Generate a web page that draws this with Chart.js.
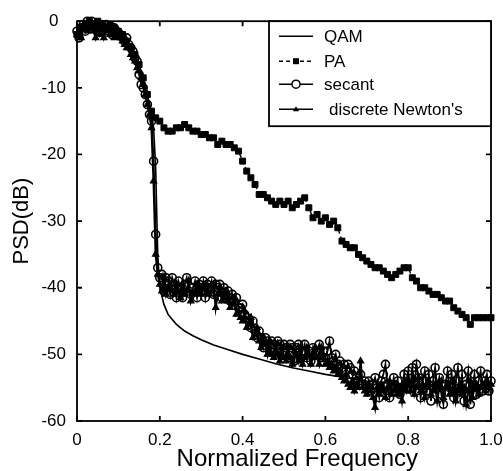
<!DOCTYPE html>
<html>
<head>
<meta charset="utf-8">
<script src="https://cdn.jsdelivr.net/npm/chart.js@4/dist/chart.umd.min.js"></script>
<style>
  body { margin: 0; background: #fff; }
  #wrap { width: 503px; height: 471px; }
</style>
</head>
<body>
<div id="wrap"><canvas id="psd" width="503" height="471"></canvas></div>
<script>
// frequency grids (normalized)
const freqFine = [
  0,0.005,0.01,0.015,0.02,0.025,0.03,0.035,0.04,0.045,0.05,0.055,0.06,0.065,0.07,0.075,0.08,0.085,0.09,0.095,
  0.1,0.105,0.11,0.115,0.12,0.125,0.13,0.135,0.14,0.145,0.15,0.155,0.16,0.165,0.17,0.175,0.18,0.185,0.19,0.195,
  0.2,0.205,0.21,0.215,0.22,0.225,0.23,0.235,0.24,0.245,0.25,0.255,0.26,0.265,0.27,0.275,0.28,0.285,0.29,0.295,
  0.3,0.305,0.31,0.315,0.32,0.325,0.33,0.335,0.34,0.345,0.35,0.355,0.36,0.365,0.37,0.375,0.38,0.385,0.39,0.395,
  0.4,0.405,0.41,0.415,0.42,0.425,0.43,0.435,0.44,0.445,0.45,0.455,0.46,0.465,0.47,0.475,0.48,0.485,0.49,0.495,
  0.5,0.505,0.51,0.515,0.52,0.525,0.53,0.535,0.54,0.545,0.55,0.555,0.56,0.565,0.57,0.575,0.58,0.585,0.59,0.595,
  0.6,0.605,0.61,0.615,0.62,0.625,0.63,0.635,0.64,0.645,0.65,0.655,0.66,0.665,0.67,0.675,0.68,0.685,0.69,0.695,
  0.7,0.705,0.71,0.715,0.72,0.725,0.73,0.735,0.74,0.745,0.75,0.755,0.76,0.765,0.77,0.775,0.78,0.785,0.79,0.795,
  0.8,0.805,0.81,0.815,0.82,0.825,0.83,0.835,0.84,0.845,0.85,0.855,0.86,0.865,0.87,0.875,0.88,0.885,0.89,0.895,
  0.9,0.905,0.91,0.915,0.92,0.925,0.93,0.935,0.94,0.945,0.95,0.955,0.96,0.965,0.97,0.975,0.98,0.985,0.99,0.995,
  1.0
];
const freqPA = [
  0,0.01,0.02,0.03,0.04,0.05,0.06,0.07,0.08,0.09,
  0.1,0.11,0.12,0.13,0.14,0.15,0.16,0.17,0.18,0.19,
  0.2,0.21,0.22,0.23,0.24,0.25,0.26,0.27,0.28,0.29,
  0.3,0.31,0.32,0.33,0.34,0.35,0.36,0.37,0.38,0.39,
  0.4,0.41,0.42,0.43,0.44,0.45,0.46,0.47,0.48,0.49,
  0.5,0.51,0.52,0.53,0.54,0.55,0.56,0.57,0.58,0.59,
  0.6,0.61,0.62,0.63,0.64,0.65,0.66,0.67,0.68,0.69,
  0.7,0.71,0.72,0.73,0.74,0.75,0.76,0.77,0.78,0.79,
  0.8,0.81,0.82,0.83,0.84,0.85,0.86,0.87,0.88,0.89,
  0.9,0.91,0.92,0.93,0.94,0.95,0.96,0.97,0.98,0.99,
  1.0
];
const freqQAM = [0, 0.02, 0.04, 0.06, 0.08, 0.1, 0.12, 0.14, 0.16, 0.17, 0.18, 0.185, 0.19, 0.195, 0.2,
  0.21, 0.22, 0.24, 0.26, 0.28, 0.3, 0.33, 0.36, 0.4, 0.44, 0.48, 0.52, 0.56, 0.6, 0.65, 0.7, 0.8, 0.9, 1.0];

// PSD in dB
const qamPsd = [-1.5, -1, -0.5, -0.5, -0.8, -1.5, -2.8, -4.8, -8.5, -11, -14, -16, -22, -35, -40,
  -42.5, -44, -45.5, -46.5, -47.2, -47.8, -48.6, -49.2, -50, -50.7, -51.4, -52, -52.5, -53, -53.5, -54, -54.5, -55, -55];

const paPsd = [
  -2, -1, -0.5, 0, -0.5, 0, -0.5, -1, -0.5, -1,
  -1.5, -2, -3, -4, -5, -6.5, -8.5, -11, -13.5, -14.5,
  -15, -16, -16.5, -16.5, -16, -16, -15.5, -16, -16.5, -16.5,
  -17, -17, -17.5, -17.5, -18.5, -18, -18.5, -18.5, -19, -19.5,
  -21, -22.5, -23.5, -24.5, -26, -26, -26.5, -27, -27.5, -27,
  -27.5, -27, -28, -27.5, -27, -26.5, -28, -29.5, -29, -30,
  -29.5, -30.5, -30, -31, -33, -33.5, -34, -34, -35, -35.5,
  -36, -36.5, -37, -37, -37.5, -38, -38.5, -38, -37.5, -37,
  -37, -38.5, -39, -40, -40, -40.5, -41, -41, -41.5, -42,
  -42, -43, -43.5, -44, -44.5, -45.5, -44.5, -44.5, -44.5, -44.5,
  -44.5
];

const secantPsd = [
  -1.5, -2.5, -1, -0.5, -1.5, 0, -0.5, 0, -1, -0.5, -0.5, -1.5, -0.5, -1, -0.5, -1.5, -1, -2, -1, -1.5,
  -2, -2, -2.5, -3, -2.5, -3.5, -4, -4.5, -5.5, -6, -8, -9.5, -10, -11, -12.5, -14, -15, -21, -32, -37,
  -38.5, -38, -40.5, -38.5, -39, -41, -38.5, -39.5, -41.5, -39, -40, -41.5, -39.5, -38.5, -40.5, -41, -40, -39, -41.5, -39.5,
  -40, -39, -41.5, -39.5, -40, -39, -41, -39.5, -40, -39.5, -41.5, -40, -41, -40.5, -42, -41, -42, -41.5, -43, -43,
  -42.5, -44, -44.5, -45, -46, -45, -46.5, -47.5, -46.5, -47.5, -49, -47.5, -48, -49.5, -48, -48.5, -50, -48, -48.5, -50,
  -48.5, -49, -50.5, -48.5, -49, -51, -49, -48.5, -50.5, -49.5, -48.5, -50.5, -49.5, -51, -49, -50, -49.5, -48.5, -50.5, -49.5,
  -50.5, -49.5, -48, -50.5, -51, -50, -51.5, -51, -52, -51.5, -52.5, -51.5, -52, -53, -52.5, -53.5, -54, -53, -54.5, -54,
  -55, -54, -55.5, -54.5, -53.5, -55, -56.5, -54, -53, -51.5, -54.5, -56.5, -55, -53.5, -55.5, -54, -56, -55, -53, -54.5,
  -52.5, -55, -52, -54.5, -51.5, -53.5, -56.5, -54, -52.5, -55.5, -53, -57, -54, -52, -55, -53.5, -56, -57.5, -54.5, -52.5,
  -55, -53, -56.5, -54, -52, -55.5, -53, -57, -54.5, -52.5, -57.5, -55, -53, -56, -54, -52.5, -55.5, -54, -53, -55.5,
  -54
];

const newtonPsd = [
  -2, -1.5, -2.5, -1, -0.5, -1.5, -1, -0.5, -1.5, -2.5, -1, -2, -1, -2.5, -1.5, -1, -2, -1.5, -2.5, -2,
  -1.5, -2.5, -3, -3.5, -4, -4, -5, -5.5, -6, -7, -7.5, -8.5, -9.5, -11, -12.5, -14, -16, -24, -35, -38,
  -39.5, -40.5, -38.5, -41, -40, -39.5, -40.5, -41, -39.5, -40.5, -41.5, -39.5, -41, -40.5, -39, -42, -41, -40.5, -39.5, -40.5,
  -41, -40, -39.5, -40.5, -41, -40.5, -39.5, -43, -41, -40, -42, -41.5, -40.5, -42, -43, -42.5, -41.5, -44, -43.5, -44.5,
  -45, -43.5, -46, -45.5, -44.5, -47.5, -47, -46, -48, -49, -47.5, -48.5, -50, -48, -50, -50.5, -48.5, -50, -51, -49,
  -50.5, -51, -49, -50.5, -51.5, -49.5, -50, -51, -49, -51.5, -50.5, -49, -50, -51.5, -50.5, -49, -50.5, -51.5, -49, -50.5,
  -51.5, -51, -52, -51.5, -52.5, -52, -53, -52.5, -53.5, -54, -53, -54.5, -55, -54, -55.5, -54.5, -55, -51, -55, -55.5,
  -56, -54.5, -55.5, -56.5, -58, -55, -56, -54.5, -55.5, -56.5, -55, -54, -56, -55.5, -54.5, -56, -55, -57, -54.5, -55.5,
  -54, -55.5, -54, -56, -55, -53.5, -55.5, -54.5, -56.5, -55, -54, -56, -55.5, -54.5, -57, -55, -54, -56.5, -55, -54.5,
  -56, -55.5, -54, -57, -55.5, -54.5, -56, -55, -57.5, -55.5, -54, -56.5, -55, -54.5, -56, -55, -54.5, -55.5, -54, -55,
  -54.5
];

const xTicks = [0, 0.2, 0.4, 0.6, 0.8, 1.0];
const yTicks = [0, -10, -20, -30, -40, -50, -60];

const pts = (xs, ys) => xs.map((x, i) => ({x: x, y: ys[i]}));
const FONT = '"Liberation Sans", Arial, sans-serif';

// box, inward ticks and the legend inside the plot
const framePlugin = {
  id: 'frame',
  afterDraw(chart) {
    const ctx = chart.ctx;
    const a = chart.chartArea;
    const sx = chart.scales.x, sy = chart.scales.y;
    ctx.save();
    ctx.strokeStyle = '#000';
    ctx.lineWidth = 1.8;
    ctx.strokeRect(a.left, a.top, a.right - a.left, a.bottom - a.top);
    ctx.beginPath();
    xTicks.forEach(v => {
      const px = sx.getPixelForValue(v);
      ctx.moveTo(px, a.bottom); ctx.lineTo(px, a.bottom - 5);
      ctx.moveTo(px, a.top); ctx.lineTo(px, a.top + 5);
    });
    yTicks.forEach(v => {
      const py = sy.getPixelForValue(v);
      ctx.moveTo(a.left, py); ctx.lineTo(a.left + 5, py);
      ctx.moveTo(a.right, py); ctx.lineTo(a.right - 5, py);
    });
    ctx.stroke();

    // legend
    const w = 222, h = 105;
    const lx = a.right - w, ly = a.top;
    ctx.fillStyle = '#fff';
    ctx.fillRect(lx, ly, w, h);
    ctx.lineWidth = 1.8;
    ctx.strokeRect(lx, ly, w, h);
    const rows = [15, 40, 63, 88];
    ctx.font = '17px ' + FONT;
    ctx.textBaseline = 'middle';
    chart.data.datasets.forEach((ds, i) => {
      const yy = ly + rows[i];
      const x0 = lx + 10, x1 = lx + 44, xm = lx + 27;
      ctx.strokeStyle = '#000';
      ctx.lineWidth = 1.5;
      ctx.setLineDash(ds.borderDash || []);
      ctx.beginPath(); ctx.moveTo(x0, yy); ctx.lineTo(x1, yy); ctx.stroke();
      ctx.setLineDash([]);
      if (ds.pointStyle === 'rect') {
        ctx.fillStyle = '#000';
        ctx.fillRect(xm - 3, yy - 3, 6, 6);
      } else if (ds.pointStyle === 'circle' && ds.pointRadius > 0) {
        ctx.fillStyle = '#fff';
        ctx.beginPath(); ctx.arc(xm, yy, 4, 0, Math.PI * 2); ctx.fill(); ctx.stroke();
      } else if (ds.pointStyle === 'triangle') {
        ctx.fillStyle = '#000';
        ctx.beginPath(); ctx.moveTo(xm, yy - 3); ctx.lineTo(xm + 3, yy + 2); ctx.lineTo(xm - 3, yy + 2);
        ctx.closePath(); ctx.fill();
      }
      ctx.fillStyle = '#000';
      ctx.fillText(ds.label, lx + 55 + (i === 3 ? 5 : 0), yy + 1);
    });
    ctx.restore();
  }
};

new Chart(document.getElementById('psd'), {
  type: 'line',
  data: {
    datasets: [
      {
        label: 'QAM',
        data: pts(freqQAM, qamPsd),
        borderColor: '#000', borderWidth: 1.6,
        pointRadius: 0, pointStyle: 'circle',
        order: 0
      },
      {
        label: 'PA',
        data: pts(freqPA, paPsd),
        borderColor: '#000', borderWidth: 1.4, borderDash: [4, 3],
        pointStyle: 'rect', pointRadius: 4.2,
        pointBackgroundColor: '#000', pointBorderColor: '#000', pointBorderWidth: 1,
        order: 1
      },
      {
        label: 'secant',
        data: pts(freqFine, secantPsd),
        borderColor: '#000', borderWidth: 1.8,
        pointStyle: 'circle', pointRadius: 4,
        pointBackgroundColor: 'rgba(255,255,255,0)', pointBorderColor: '#000', pointBorderWidth: 1.6,
        order: 3
      },
      {
        label: "discrete Newton's",
        data: pts(freqFine, newtonPsd),
        borderColor: '#000', borderWidth: 2.2,
        pointStyle: 'triangle', pointRadius: 3.6,
        pointBackgroundColor: '#000', pointBorderColor: '#000', pointBorderWidth: 1.2,
        order: 2
      }
    ]
  },
  options: {
    responsive: false,
    animation: false,
    clip: false,
    layout: { padding: { left: 0, right: 12, top: 20, bottom: 0 } },
    plugins: { legend: { display: false }, tooltip: { enabled: false } },
    scales: {
      x: {
        type: 'linear', min: 0, max: 1,
        afterFit: s => { s.height = 50; },
        afterBuildTicks: s => { s.ticks = xTicks.map(v => ({value: v})); },
        grid: { display: false, drawTicks: false },
        border: { display: false },
        ticks: {
          color: '#000', padding: 0, autoSkip: false, maxRotation: 0,
          font: { family: FONT, size: 17, lineHeight: 2.3 },
          callback: v => v === 0 ? '0' : v.toFixed(1)
        },
        title: {
          display: true, text: '    Normalized Frequency', color: '#000',
          font: { family: FONT, size: 24, lineHeight: 1 },
          padding: { top: 0, bottom: 0 }
        }
      },
      y: {
        type: 'linear', min: -60, max: 0,
        afterFit: s => { s.width = 77; },
        afterBuildTicks: s => { s.ticks = yTicks.map(v => ({value: v})); },
        grid: { display: false, drawTicks: false },
        border: { display: false },
        ticks: {
          color: '#000', padding: 11, crossAlign: 'center',
          font: { family: FONT, size: 17 }
        },
        title: {
          display: true, text: 'PSD(dB)', color: '#000',
          font: { family: FONT, size: 22, lineHeight: 1 },
          padding: { top: 11, bottom: 0 }
        }
      }
    }
  },
  plugins: [framePlugin]
});
</script>
</body>
</html>
